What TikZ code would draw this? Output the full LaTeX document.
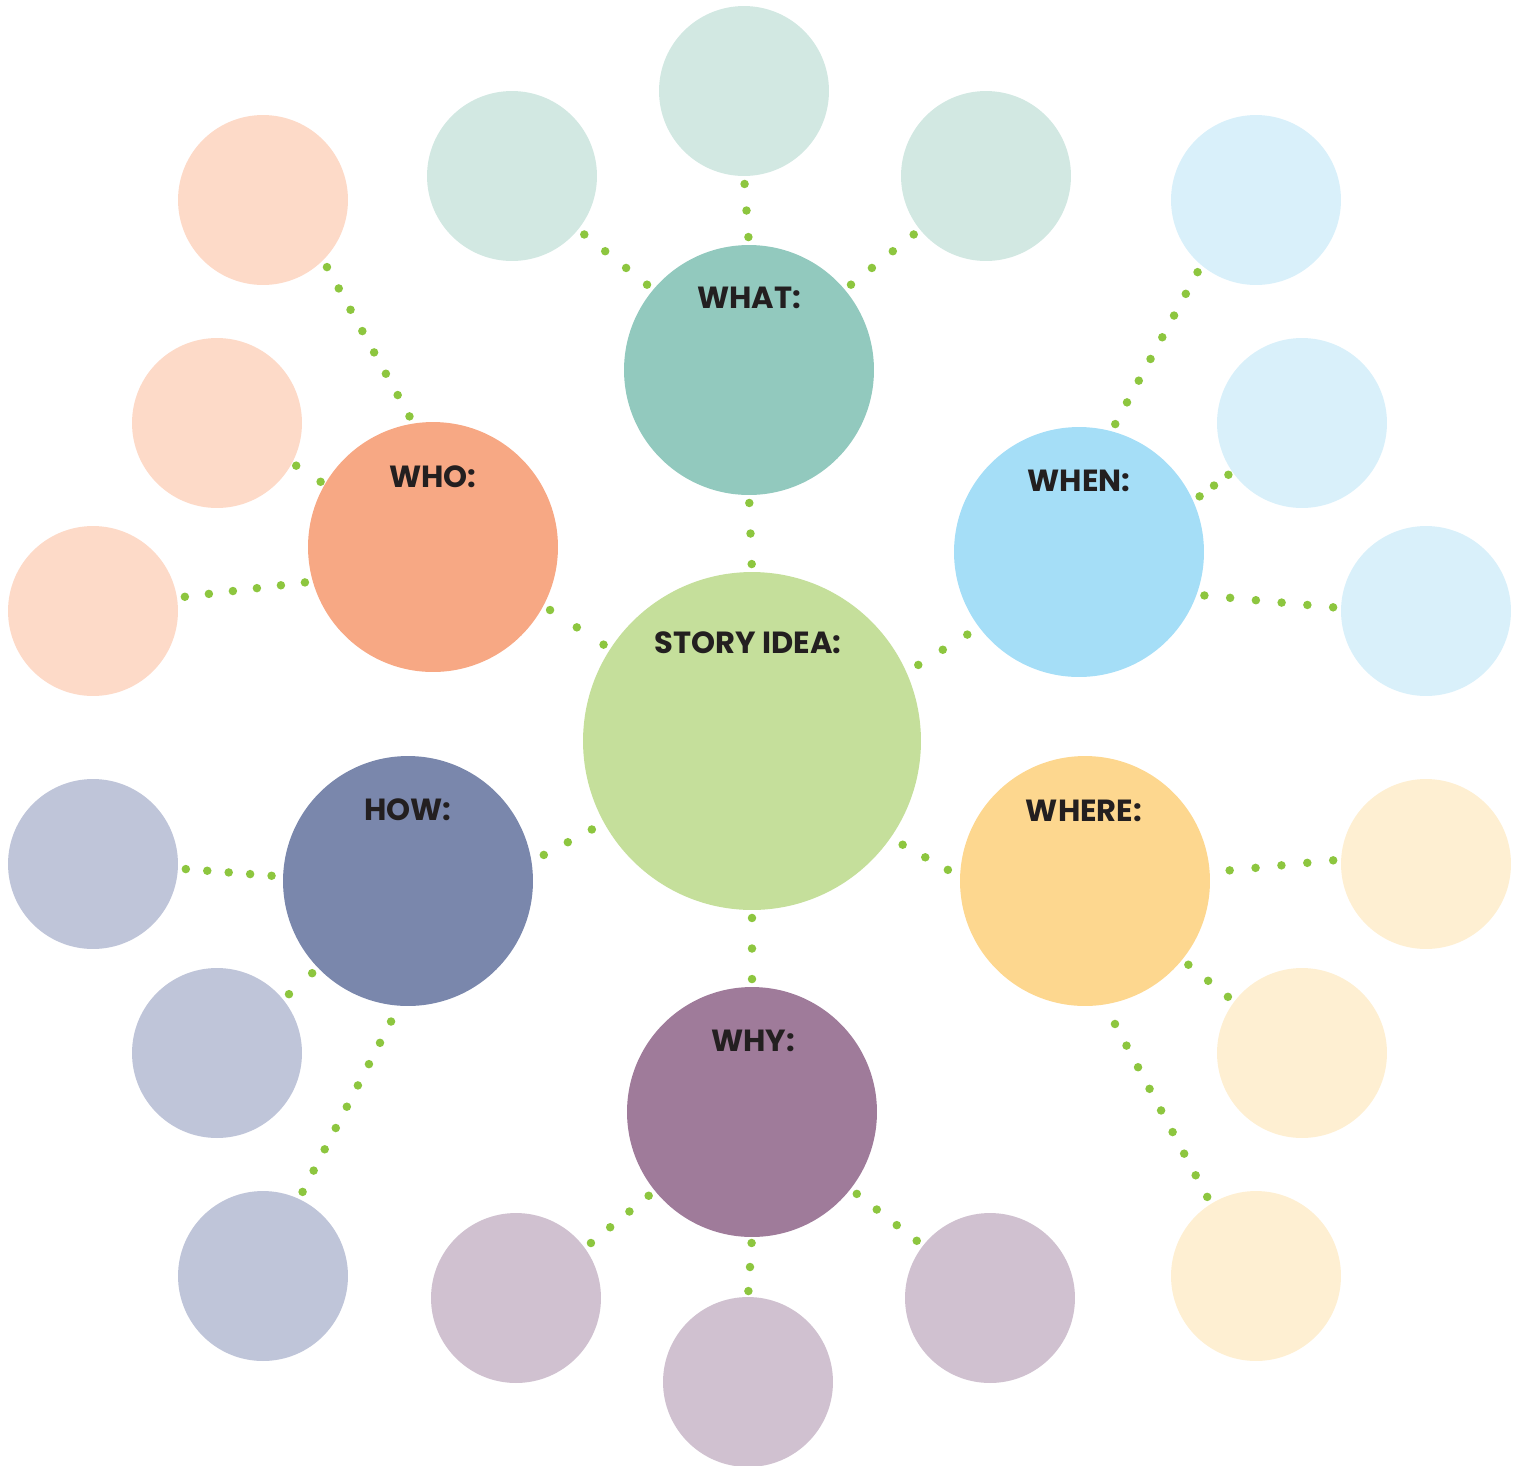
\documentclass[tikz,border=0pt]{standalone}
\usepackage{fontspec}
\usetikzlibrary{decorations,calc}
\setmainfont{Poppins}
\definecolor{dotgreen}{HTML}{8DC63F}
\definecolor{txt}{HTML}{231F20}
\definecolor{ideaC}{HTML}{C5DF9B}
\definecolor{whatC}{HTML}{92C9BE}
\definecolor{whatL}{HTML}{D2E8E2}
\definecolor{whoC}{HTML}{F7A884}
\definecolor{whoL}{HTML}{FDDAC8}
\definecolor{whenC}{HTML}{A5DEF7}
\definecolor{whenL}{HTML}{D9F0FA}
\definecolor{howC}{HTML}{7A87AC}
\definecolor{howL}{HTML}{BFC5D9}
\definecolor{whereC}{HTML}{FDD78F}
\definecolor{whereL}{HTML}{FEEFD2}
\definecolor{whyC}{HTML}{9F7B9A}
\definecolor{whyL}{HTML}{D0C1D0}
% dotted connector: \dotlink[options]{gap}{from anchor}{to anchor}
\newcommand\dotlink[4][]{\draw[dotline,#1] ($(#3)!#2!(#4)$) -- ($(#4)!#2!(#3)$);}
\begin{document}
\begin{tikzpicture}[x=0.02cm,y=-0.02cm,
  disc/.style={circle,draw=none,inner sep=0pt,outer sep=0pt},
  hubc/.style={disc,minimum size=6.76cm},
  bigc/.style={disc,minimum size=5cm},
  smallc/.style={disc,minimum size=3.4cm},
  dotline/.style={draw=dotgreen,line width=0.17cm,line cap=round,
     dash pattern=on 0pt off 0.44cm,dash expand off},
  pitch/.style={dash pattern=on 0pt off #1},
  lbl/.style={anchor=base,inner sep=0pt,text=txt,font=\bfseries\fontsize{17.4}{19}\selectfont}]
\useasboundingbox (0,0) rectangle (1522,1465);
% central and main circles
\node[hubc,fill=ideaC] (idea) at (752,741) {};
\node[bigc,fill=whatC] (what) at (749,370) {};
\node[bigc,fill=whoC] (who) at (433,547) {};
\node[bigc,fill=whenC] (when) at (1079,552) {};
\node[bigc,fill=howC] (how) at (408,881) {};
\node[bigc,fill=whereC] (where) at (1085,881) {};
\node[bigc,fill=whyC] (why) at (752,1112) {};
% small circles
\node[smallc,fill=whatL] (whatA) at (512,176) {};
\node[smallc,fill=whatL] (whatB) at (744,91) {};
\node[smallc,fill=whatL] (whatD) at (986,176) {};
\node[smallc,fill=whoL] (whoA) at (263,200) {};
\node[smallc,fill=whoL] (whoB) at (217,423) {};
\node[smallc,fill=whoL] (whoD) at (93,611) {};
\node[smallc,fill=whenL] (whenA) at (1256,200) {};
\node[smallc,fill=whenL] (whenB) at (1302,423) {};
\node[smallc,fill=whenL] (whenD) at (1426,611) {};
\node[smallc,fill=howL] (howA) at (93,864) {};
\node[smallc,fill=howL] (howB) at (217,1053) {};
\node[smallc,fill=howL] (howD) at (263,1276) {};
\node[smallc,fill=whereL] (whereA) at (1426,864) {};
\node[smallc,fill=whereL] (whereB) at (1302,1053) {};
\node[smallc,fill=whereL] (whereD) at (1256,1276) {};
\node[smallc,fill=whyL] (whyA) at (516,1298) {};
\node[smallc,fill=whyL] (whyB) at (748,1382) {};
\node[smallc,fill=whyL] (whyD) at (990,1298) {};
% labels
\node[lbl] (tidea) at (748,653) {STORY IDEA:};
\node[lbl] (twhat) at (749,308) {WHAT:};
\node[lbl] (twho) at (433,487) {WHO:};
\node[lbl] (twhen) at (1079,491) {WHEN:};
\node[lbl] (thow) at (408,820) {HOW:};
\node[lbl] (twhere) at (1084,821) {WHERE:};
\node[lbl] (twhy) at (753,1051) {WHY:};
% connectors
\dotlink{0.16cm}{what.-90}{idea.90}
\dotlink{0.16cm}{whatB.-90}{what.90}
\dotlink{0.16cm}{whatA.-39.6}{what.140.2}
\dotlink{0.16cm}{whatD.219.2}{what.40.1}
\dotlink{0.16cm}{whoA.-45}{who.99.3}
\dotlink{0.1cm}{whoB.-28.3}{who.150.9}
\dotlink{0.16cm}{whoD.9.8}{who.196.3}
\dotlink{0.16cm}{who.-28.5}{idea.147.4}
\dotlink{0.16cm}{whenA.230.6}{when.75.3}
\dotlink[pitch=0.36cm]{0.1cm}{whenB.215.1}{when.24.4}
\dotlink{0.16cm}{whenD.178.8}{when.-20.2}
\dotlink{0.28cm}{when.217}{idea.24.9}
\dotlink[pitch=0.43cm]{0.16cm}{howA.-3.7}{how.178.7}
\dotlink{0.28cm}{how.9.9}{idea.209.4}
\dotlink{0.16cm}{howB.39.6}{how.224.7}
\dotlink[pitch=0.48cm]{0.16cm}{howD.65.6}{how.266.6}
\dotlink{0.28cm}{where.178.7}{idea.-35.1}
\dotlink[pitch=0.52cm]{0.16cm}{whereA.177.7}{where.4.7}
\dotlink{0.16cm}{whereB.143.5}{where.-39.9}
\dotlink[pitch=0.49cm]{0.16cm}{whereD.122.2}{where.-81.2}
\dotlink{0.16cm}{idea.-90}{why.90}
\dotlink{0.16cm}{whyA.36.5}{why.219.6}
\dotlink{0.16cm}{whyD.142}{why.-38.3}
\dotlink{0.12cm}{why.-90}{whyB.90}
\end{tikzpicture}
\end{document}
